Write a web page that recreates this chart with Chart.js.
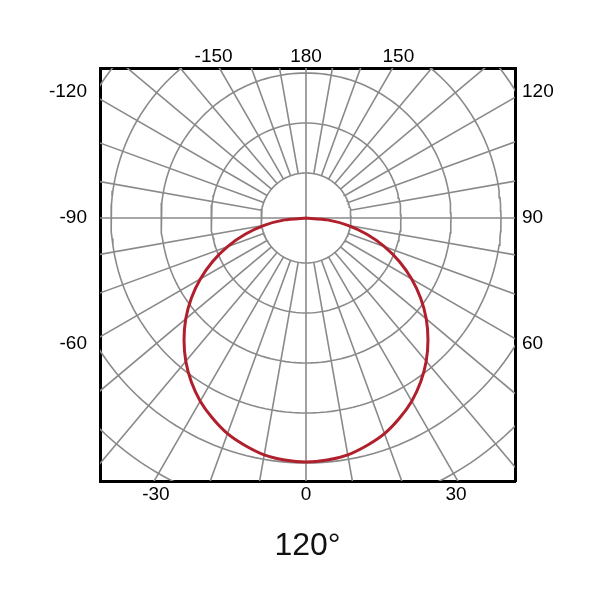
<!DOCTYPE html>
<html>
<head>
<meta charset="utf-8">
<script src="https://cdn.jsdelivr.net/npm/chart.js@4.4.1/dist/chart.umd.min.js"></script>
<style>
  html, body { margin: 0; padding: 0; background: #fff; }
  #wrap { width: 600px; height: 600px; }
</style>
</head>
<body>
<div id="wrap"><canvas id="polarChart"></canvas></div>
<script>
// angles in degrees, 0 = straight down, positive to the right
const curveAngles = [-90, -85, -80, -75, -70, -65, -60, -55, -50, -45, -40, -35, -30, -25, -20, -15, -10, -5,
  0, 5, 10, 15, 20, 25, 30, 35, 40, 45, 50, 55, 60, 65, 70, 75, 80, 85, 90];
// intensity
const curveValues = [0, 43, 85, 126, 167, 206, 244, 280, 314, 345, 374, 400, 423, 442, 459, 471, 481, 486,
  488, 486, 481, 471, 459, 442, 423, 400, 374, 345, 314, 280, 244, 206, 167, 126, 85, 43, 0];

// polar grid
const ringValues = [90, 190, 290, 390, 490, 590];
const spokeAngles = [0, 10, 20, 30, 40, 50, 60, 70, 80, 90, 100, 110, 120, 130, 140, 150, 160, 170,
  180, 190, 200, 210, 220, 230, 240, 250, 260, 270, 280, 290, 300, 310, 320, 330, 340, 350];

// angle labels on each side of the frame
const bottomLabels = [-30, 0, 30];
const topLabels = [-150, 180, 150];
const leftLabels = [-120, -90, -60];
const rightLabels = [120, 90, 60];

const chartTitle = "120°";

// visible window (intensity units, centre of the polar plot at 0,0)
const X_MIN = -412, X_MAX = 418, Y_MIN = -526, Y_MAX = 300;

const GRID_COLOR = "#8a8a8a";
const RED = "#b01f2c";
const FONT = "'Liberation Sans', Arial, sans-serif";

const rad = (d) => (d * Math.PI) / 180;
const toXY = (angle, r) => ({ x: r * Math.sin(rad(angle)), y: -r * Math.cos(rad(angle)) });

// where a spoke meets a line parallel to a side of the frame
function sideTick(side, angle, dist) {
  const a = rad(angle);
  if (side === "bottom") return dist * Math.tan(a);
  if (side === "top") return (dist * Math.sin(a)) / -Math.cos(a);
  if (side === "left") return (dist * Math.cos(a)) / Math.sin(a);
  return (-dist * Math.cos(a)) / Math.sin(a);
}

const datasets = [];

// the measured curve (first dataset draws on top)
datasets.push({
  data: curveAngles.map((a, i) => toXY(a, curveValues[i])),
  borderColor: RED,
  borderWidth: 3,
  showLine: true,
  pointRadius: 0,
  tension: 0.2,
});

ringValues.forEach((r) => {
  const pts = [];
  for (let a = 0; a <= 360; a += 2) pts.push(toXY(a, r));
  datasets.push({ data: pts, borderColor: GRID_COLOR, borderWidth: 1.6, showLine: true, pointRadius: 0 });
});

spokeAngles.forEach((a) => {
  const start = a % 90 === 0 ? 0 : ringValues[0];
  datasets.push({
    data: [toXY(a, start), toXY(a, 900)],
    borderColor: GRID_COLOR,
    borderWidth: 1.6,
    showLine: true,
    pointRadius: 0,
  });
});

const tickFont = { family: FONT, size: 19 };
const frame = { display: true, color: "#000", width: 3 };
const noGrid = { display: false, drawTicks: false };

function sideAxis(side, labels, dist, size, pad, min, max) {
  const horizontal = side === "top" || side === "bottom";
  return {
    type: "linear",
    position: side,
    min: min,
    max: max,
    grid: noGrid,
    border: frame,
    afterBuildTicks: (scale) => {
      scale.ticks = labels.map((a) => ({ value: sideTick(side, a, dist) }));
    },
    afterFit: (scale) => {
      if (horizontal) scale.height = size;
      else scale.width = size;
    },
    ticks: {
      autoSkip: false,
      maxRotation: 0,
      padding: pad,
      color: "#000",
      font: tickFont,
      callback: (v, i) => String(labels[i]),
    },
  };
}

const bottomAxis = sideAxis("bottom", bottomLabels, 520, 119, 2, X_MIN, X_MAX);
bottomAxis.title = {
  display: true,
  text: chartTitle,
  color: "#111",
  font: { family: FONT, size: 32 },
  padding: { top: 0, bottom: 35 },
};

const ctx = document.getElementById("polarChart").getContext("2d");
new Chart(ctx, {
  type: "scatter",
  data: { datasets: datasets },
  options: {
    responsive: true,
    maintainAspectRatio: false,
    animation: false,
    events: [],
    layout: { padding: 0 },
    scales: {
      x: bottomAxis,
      x2: sideAxis("top", topLabels, 320, 68, 0, X_MIN, X_MAX),
      y: sideAxis("left", leftLabels, 436, 100, 13, Y_MIN, Y_MAX),
      y2: sideAxis("right", rightLabels, 436, 85, 7, Y_MIN, Y_MAX),
    },
    plugins: {
      legend: { display: false },
      tooltip: { enabled: false },
    },
  },
});
</script>
</body>
</html>
